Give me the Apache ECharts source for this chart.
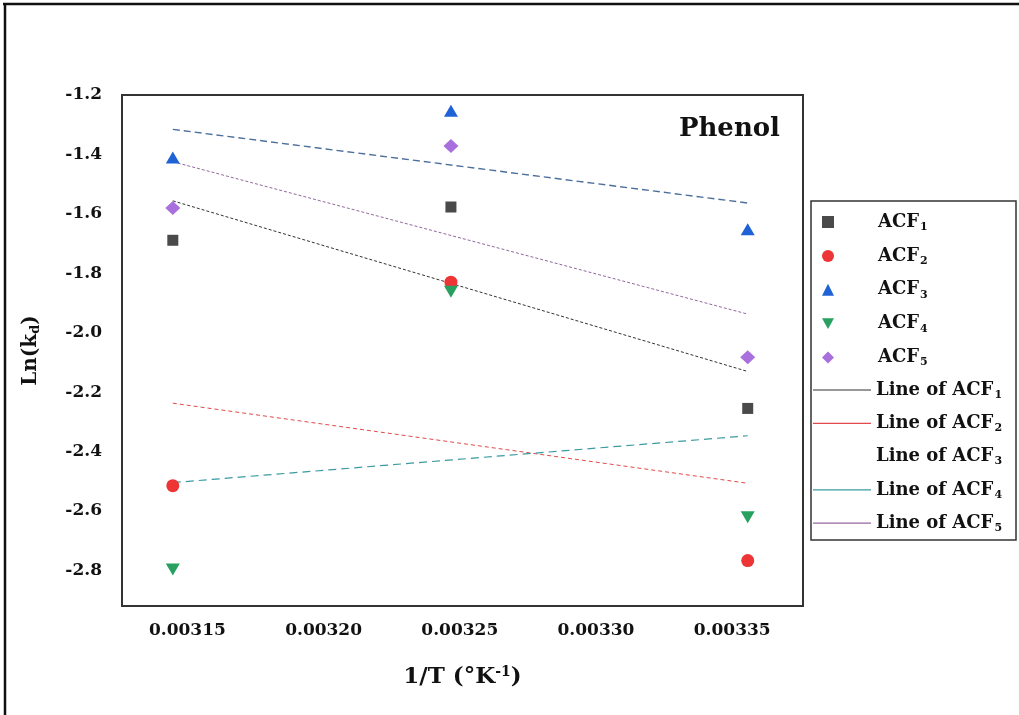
<!DOCTYPE html>
<html>
<head>
<meta charset="utf-8">
<script src="https://cdn.jsdelivr.net/npm/echarts@6/dist/echarts.min.js"></script>
<style>
  html, body { margin: 0; padding: 0; background: #fff; }
  #chart { width: 1019px; height: 715px; }
</style>
</head>
<body>
<div id="chart"></div>
<script>
// 1/T values (K^-1) for 318, 308 and 298 K
const invT = [1 / 318, 1 / 308, 1 / 298];

// Ln(kd) for each activated carbon fibre sample
const acf1 = [-1.689, -1.577, -2.255];
const acf2 = [-2.515, -1.830, -2.767];
const acf3 = [-1.410, -1.253, -1.652];
const acf4 = [-2.797, -1.862, -2.621];
const acf5 = [-1.580, -1.372, -2.083];

const seriesNames = ['ACF1', 'ACF2', 'ACF3', 'ACF4', 'ACF5'];
const seriesValues = [acf1, acf2, acf3, acf4, acf5];

// axis tick labels
const xTicks = [0.00315, 0.00320, 0.00325, 0.00330, 0.00335];
const yTicks = [-1.2, -1.4, -1.6, -1.8, -2.0, -2.2, -2.4, -2.6, -2.8];

const markerColors = ['#4a4a4a', '#ee3535', '#1f62d6', '#27a060', '#a96fdc'];
const markerSymbols = ['rect', 'circle', 'triangle', 'path://M0,0 L10,0 L5,9 Z', 'diamond'];
const markerSizes = [[11, 11], 13, [14, 12], [14, 12], [15, 14]];

const fitColors = ['#333333', '#e04a4a', '#4d6f9c', '#3a9ba0', '#93689e'];
const fitDash = [[3, 2], [4, 3], [7, 4], [8, 5], [3, 2]];
const fitWidths = [1, 1, 1.4, 1.2, 1];

const serif = '"DejaVu Serif", "Liberation Serif", serif';

// least-squares straight line through each sample, drawn across the data range
function linearFit(xs, ys) {
  const n = xs.length;
  const mx = xs.reduce((a, b) => a + b, 0) / n;
  const my = ys.reduce((a, b) => a + b, 0) / n;
  let sxy = 0, sxx = 0;
  for (let i = 0; i < n; i++) {
    sxy += (xs[i] - mx) * (ys[i] - my);
    sxx += (xs[i] - mx) * (xs[i] - mx);
  }
  const slope = sxy / sxx;
  const x0 = Math.min(...xs), x1 = Math.max(...xs);
  return [[x0, my + slope * (x0 - mx)], [x1, my + slope * (x1 - mx)]];
}

const series = [];
seriesNames.forEach((name, i) => {
  series.push({
    name: name,
    type: 'scatter',
    symbol: markerSymbols[i],
    symbolSize: markerSizes[i],
    itemStyle: { color: markerColors[i], opacity: 1 },
    data: invT.map((x, j) => [x, seriesValues[i][j]]),
    z: 3
  });
});
seriesNames.forEach((name, i) => {
  series.push({
    name: 'Line of ' + name,
    type: 'line',
    symbol: 'none',
    silent: true,
    lineStyle: { color: fitColors[i], width: fitWidths[i], type: fitDash[i] },
    itemStyle: { color: fitColors[i] },
    data: linearFit(invT, seriesValues[i]),
    z: 2
  });
});

const subRich = {
  s: { fontFamily: serif, fontWeight: 'bold', fontSize: 11, color: '#111', padding: [10, 0, 0, 1] },
  g1: { width: 39 }
};
const legendText = { fontFamily: serif, fontWeight: 'bold', fontSize: 18, color: '#111', rich: subRich };

const option = {
  backgroundColor: '#fff',
  animation: false,
  title: {
    text: 'Phenol',
    right: 234,
    top: 111,
    textStyle: { fontFamily: serif, fontWeight: 'bold', fontSize: 26, color: '#111' }
  },
  grid: {
    left: 122, top: 95, width: 681, height: 511,
    show: true, borderColor: '#333', borderWidth: 2, backgroundColor: '#fff'
  },
  xAxis: {
    type: 'value',
    min: 0.003126,
    max: 0.003376,
    name: '1/T (°K{sup|-1})',
    nameLocation: 'middle',
    nameGap: 59,
    nameTextStyle: {
      fontFamily: serif, fontWeight: 'bold', fontSize: 23, color: '#111',
      rich: { sup: { fontFamily: serif, fontWeight: 'bold', fontSize: 14, color: '#111', padding: [0, 0, 11, 0] } }
    },
    axisLine: { show: true, lineStyle: { color: '#333', width: 2 } },
    axisTick: { show: false },
    splitLine: { show: false },
    axisLabel: {
      customValues: xTicks,
      formatter: v => v.toFixed(5),
      fontFamily: serif, fontWeight: 'bold', fontSize: 17, color: '#111', margin: 16
    }
  },
  yAxis: {
    type: 'value',
    min: -2.92,
    max: -1.2,
    name: 'Ln(k{sub|d})',
    nameLocation: 'middle',
    nameGap: 80,
    nameRotate: 90,
    nameTextStyle: {
      fontFamily: serif, fontWeight: 'bold', fontSize: 20, color: '#111',
      rich: { sub: { fontFamily: serif, fontWeight: 'bold', fontSize: 13, color: '#111', padding: [9, 0, 0, 0] } }
    },
    axisLine: { show: true, lineStyle: { color: '#333', width: 2 } },
    axisTick: { show: false },
    splitLine: { show: false },
    axisLabel: {
      customValues: yTicks,
      formatter: v => v.toFixed(1),
      fontFamily: serif, fontWeight: 'bold', fontSize: 17, color: '#111', margin: 20
    }
  },
  legend: [
    {
      orient: 'vertical',
      left: 822,
      top: 213,
      padding: 0,
      itemWidth: 12,
      itemHeight: 12,
      itemGap: 14.4,
      data: seriesNames,
      formatter: name => '{g1|}' + name.replace(/(\d)$/, '{s|$1}'),
      textStyle: legendText,
      selectedMode: false
    },
    {
      orient: 'vertical',
      left: 813,
      top: 381,
      padding: 0,
      icon: 'rect',
      itemWidth: 58,
      itemHeight: 1.2,
      itemGap: 13.8,
      data: seriesNames.map((n, i) => i === 2
        ? { name: 'Line of ' + n, itemStyle: { opacity: 0 } }
        : { name: 'Line of ' + n }),
      formatter: name => name.replace(/(\d)$/, '{s|$1}'),
      textStyle: legendText,
      selectedMode: false
    }
  ],
  graphic: [
    { type: 'rect', shape: { x: 811, y: 201, width: 205, height: 339 }, style: { fill: null, stroke: '#333', lineWidth: 1.5 }, silent: true },
    { type: 'line', shape: { x1: 3, y1: 4, x2: 1019, y2: 4 }, style: { stroke: '#111', lineWidth: 2.5 }, silent: true },
    { type: 'line', shape: { x1: 5, y1: 3, x2: 5, y2: 715 }, style: { stroke: '#111', lineWidth: 2.5 }, silent: true }
  ],
  series: series
};

const chart = echarts.init(document.getElementById('chart'), null, { renderer: 'canvas' });
chart.setOption(option);
</script>
</body>
</html>
